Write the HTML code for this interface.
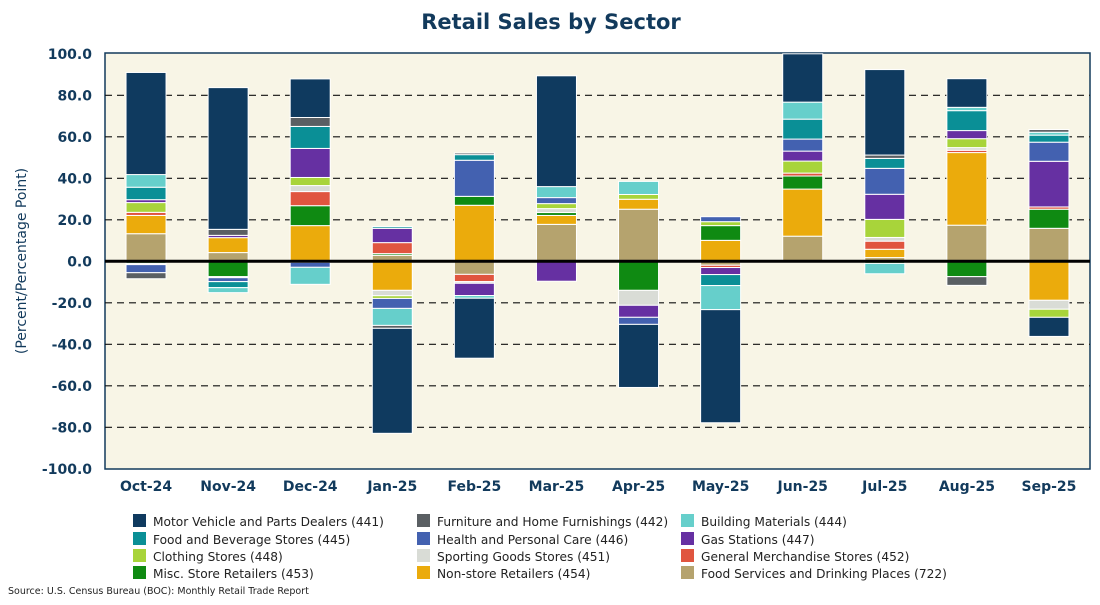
<!DOCTYPE html>
<html><head><meta charset="utf-8"><style>
body{margin:0;background:#fff;font-family:"Liberation Sans",sans-serif;}
svg text{font-family:"DejaVu Sans","Liberation Sans",sans-serif;}
</style></head><body>
<svg id="chart" width="1100" height="600" xmlns="http://www.w3.org/2000/svg">
<rect x="0" y="0" width="1100" height="600" fill="#fff"/>
<text x="551" y="29" text-anchor="middle" font-size="21" font-weight="bold" fill="#123a5c">Retail Sales by Sector</text>
<rect x="105" y="53" width="985" height="416" fill="#f8f5e6" stroke="#123a5c" stroke-width="1.5"/>
<g id="grid"></g><g id="bars"></g><g id="axes"></g><g id="legend"></g>
<text x="8" y="594" font-size="9.5" fill="#222">Source: U.S. Census Bureau (BOC): Monthly Retail Trade Report</text>
</svg>
<script>
const categories=["Oct-24","Nov-24","Dec-24","Jan-25","Feb-25","Mar-25","Apr-25","May-25","Jun-25","Jul-25","Aug-25","Sep-25"];
const seriesNames=["Motor Vehicle and Parts Dealers (441)","Furniture and Home Furnishings (442)","Building Materials (444)","Food and Beverage Stores (445)","Health and Personal Care (446)","Gas Stations (447)","Clothing Stores (448)","Sporting Goods Stores (451)","General Merchandise Stores (452)","Misc. Store Retailers (453)","Non-store Retailers (454)","Food Services and Drinking Places (722)"];
const colors=["#0f3a5f","#5a5f63","#66cfcb","#0a8f96","#4361b0","#6630a2","#a8d43a","#d9dcd6","#e0553f","#0f8a12","#ebab0c","#b5a36e"];
const s441=[49.2,68.3,18.6,-50.6,-28.9,53.4,-30.4,-54.5,24,41.2,13.8,-9.2];
const s442=[-2.9,2.9,4.3,-1.4,0.8,0,0,0,0,1.6,-4.2,1.3];
const s444=[6.1,-2.4,-8.2,-8.2,-1.3,5.3,6.3,-11.6,8.2,-5,1.6,1.4];
const s445=[6.0,-2.9,10.6,0.8,2.7,0,0,-5.3,9.6,4.8,9.6,3.4];
const s446=[-3.9,-1.9,-2.4,-4.8,17.4,2.9,-3.4,2.4,5.8,12.5,0,9.2];
const s447=[1.4,1.1,14.0,6.9,-5.9,-9.6,-5.8,-3.4,4.8,12.1,3.9,22.0];
const s448=[4.7,0,3.9,-1.3,0,2.4,2.3,1.9,5.8,8.7,4.3,-3.9];
const s451=[-0.6,-0.5,2.9,-2.6,-0.8,1.9,-7.2,0,0,1.8,1.3,-4.3];
const s452=[1.5,0,6.8,5.3,-3.5,0,0,-1.1,1.4,3.9,1.1,1.1];
const s453=[-1.0,-7.4,9.6,0.8,4.3,1.4,-14.0,7.1,6.3,-1.0,-7.4,9.2];
const s454=[8.8,7.2,17.2,-14.0,27.0,4.3,4.8,10.1,22.7,4.0,35.0,-18.8];
const s722=[13.3,4.2,-0.5,2.9,-6.3,17.8,25.1,-1.9,12.1,1.8,17.4,15.9];
const series=[s441,s442,s444,s445,s446,s447,s448,s451,s452,s453,s454,s722];
const yTicks=[100,80,60,40,20,0,-20,-40,-60,-80,-100];
const NS="http://www.w3.org/2000/svg";
const L=105,R=1090,T=53.8,B=468.8;
const y=v=>T+(100-v)*(B-T)/200;
const step=(R-L)/categories.length;
const xc=i=>L+step*(i+0.5);
function mk(tag,attrs,parent,txt){const e=document.createElementNS(NS,tag);for(const k in attrs)e.setAttribute(k,attrs[k]);if(txt!==undefined)e.textContent=txt;parent.appendChild(e);return e;}
const grid=document.getElementById('grid'),bars=document.getElementById('bars'),axes=document.getElementById('axes'),leg=document.getElementById('legend');
yTicks.forEach(t=>{
 if(t!==0&&t!==100&&t!==-100){const g=mk('line',{x1:L,x2:R,y1:y(t),y2:y(t),stroke:'#111','stroke-width':1.2,'stroke-dasharray':'7,5'},grid);
 
 }
 const lb=mk('text',{x:92,y:y(t)+5,'text-anchor':'end','font-size':14,'font-weight':'bold',fill:'#123a5c'},axes,t.toFixed(1));
 
 
});
const yt=mk('text',{x:0,y:0,transform:'translate(26,261) rotate(-90)','text-anchor':'middle','font-size':14,fill:'#123a5c'},axes,'(Percent/Percentage Point)');


const bw=40;
categories.forEach((c,i)=>{
 let pos=0,neg=0;
 for(let s=series.length-1;s>=0;s--){
  const v=series[s][i]; if(!v) continue;
  let a,b;
  if(v>0){a=pos;b=pos+v;pos=b;}else{a=neg;b=neg+v;neg=b;}
  const top=Math.max(y(Math.max(a,b)),T), bot=y(Math.min(a,b));
  const r=mk('rect',{x:xc(i)-bw/2,y:top,width:bw,height:Math.max(bot-top,0),fill:colors[s],stroke:'#fff','stroke-width':1},bars);
  
  
 }
 const xl=mk('text',{x:xc(i),y:491,'text-anchor':'middle','font-size':14,'font-weight':'bold',fill:'#123a5c'},axes,c);
 
 
});
const z=mk('line',{x1:L,x2:R,y1:y(0),y2:y(0),stroke:'#000','stroke-width':3},axes);


const colX=[133,417,681],rowY=[521,539,556,573];
seriesNames.forEach((n,k)=>{
 const cx=colX[k%3],ry=rowY[Math.floor(k/3)];
 const g=mk('g',{},leg);
 
 
 mk('rect',{x:cx,y:ry-7,width:13,height:13,fill:colors[k]},g);
 mk('text',{x:cx+20,y:ry+5,'font-size':12.2,fill:'#222'},g,n);
});
</script>
</body></html>
